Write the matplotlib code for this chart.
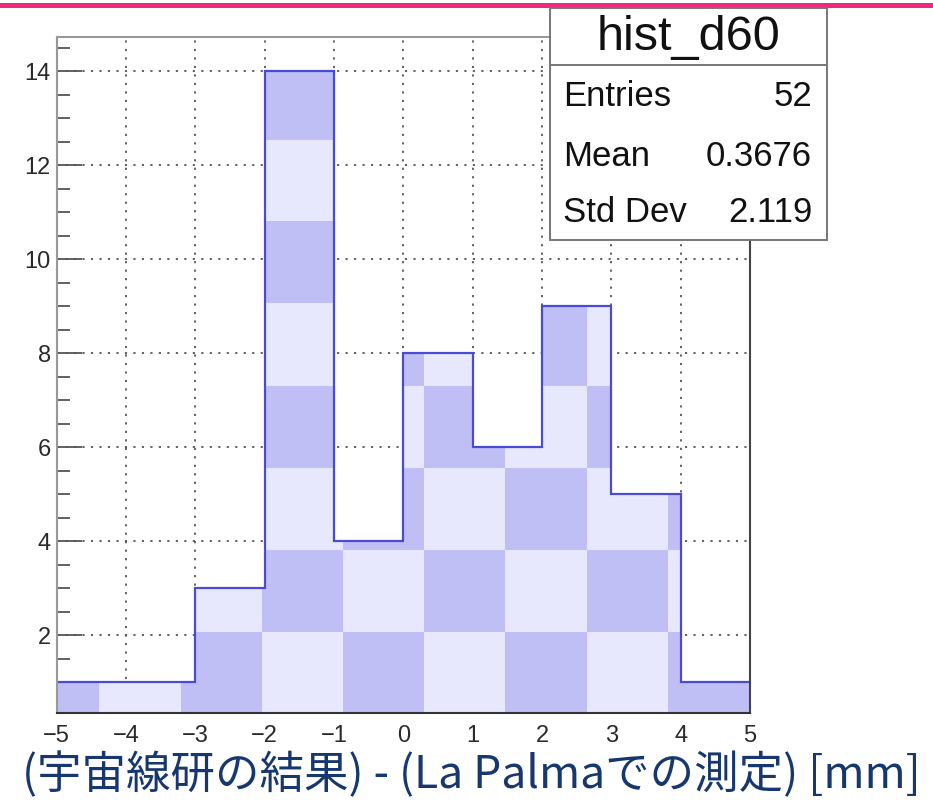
import numpy as np
import matplotlib
matplotlib.use("Agg")
import matplotlib.pyplot as plt
from matplotlib.patches import Rectangle
from matplotlib.lines import Line2D
from matplotlib.ticker import MultipleLocator

# histogram contents (bin width 1 mm)
bin_edges = [-5, -4, -3, -2, -1, 0, 1, 2, 3, 4, 5]
bin_counts = [1, 1, 3, 14, 4, 8, 6, 9, 5, 1]

stat_title = "hist_d60"
stat_names = ["Entries", "Mean", "Std Dev"]
stat_values = ["52", "0.3676", "2.119"]

x_label = "(宇宙線研の結果) - (La Palmaでの測定) [mm]"

plt.rcParams["font.family"] = ["Liberation Sans", "DejaVu Sans"]

fig = plt.figure(figsize=(9.33, 8.0), dpi=100)
ax = fig.add_axes([56.5 / 933, 87 / 800, (750 - 56.5) / 933, (713 - 36.7) / 800])

ax.set_xlim(-5, 5)
ax.set_ylim(0.34, 14.74)

# outline + clip shape
step_patch = ax.stairs(bin_counts, bin_edges, fill=True, facecolor="none",
                       edgecolor="none", baseline=0, zorder=2)
ax.stairs(bin_counts, bin_edges, fill=False, edgecolor="#4b4bd2",
          linewidth=1.6, baseline=None, zorder=4)

# ROOT-like pattern fill, rendered as a coarse checker texture
gx = np.linspace(-5, 5, 1000)
gy = np.linspace(0.34, 14.74, 1000)
GX, GY = np.meshgrid(gx, gy)
ix = np.floor((GX + 4.39) / 1.17)
iy = np.floor((GY - 2.06) / 1.747)
checker = ((ix + iy) % 2 == 0).astype(float)
cmap = matplotlib.colors.ListedColormap(["#e7e7fd", "#bfbff5"])
img = ax.imshow(checker, extent=(-5, 5, 0.34, 14.74), origin="lower",
                cmap=cmap, aspect="auto", interpolation="nearest", zorder=3)
img.set_clip_path(step_patch)

# grid on top of the fill
ax.grid(True, which="major", linestyle=(0, (1.2, 3.5)), color="#555555",
        linewidth=1.3, zorder=5)
ax.set_axisbelow(False)

ax.xaxis.set_major_locator(MultipleLocator(1))
ax.xaxis.set_minor_locator(MultipleLocator(0.2))
ax.yaxis.set_major_locator(MultipleLocator(2))
ax.yaxis.set_minor_locator(MultipleLocator(0.5))
ax.set_yticks(range(2, 15, 2))

ax.tick_params(axis="x", which="major", direction="in", length=17, width=1.3,
               color="#333333", pad=9, labelsize=17, labelcolor="#2a2a2a")
ax.tick_params(axis="x", which="minor", direction="in", length=8, width=1.3,
               color="#333333")
ax.tick_params(axis="y", which="major", direction="in", length=18, width=1.3,
               color="#555555", pad=4, labelsize=17, labelcolor="#2a2a2a")
ax.tick_params(axis="y", which="minor", direction="in", length=9, width=1.3,
               color="#555555")

for side, col in [("left", "#999999"), ("top", "#999999"),
                  ("bottom", "#333333"), ("right", "#444444")]:
    ax.spines[side].set_color(col)
    ax.spines[side].set_linewidth(1.5)
    ax.spines[side].set_zorder(6)

fig.text(471 / 933, 1 - 775 / 800, x_label, ha="center", va="center",
         fontsize=32, color="#17386e",
         family=["Noto Sans CJK JP", "DejaVu Sans"])

# pink rule at the top of the slide
fig.add_artist(Line2D([0, 1], [1 - 4.5 / 800, 1 - 4.5 / 800],
                      transform=fig.transFigure, color="#ee2a7b", linewidth=3.6))

# stats box
bx0, bx1, by0, by1 = 550 / 933, 827 / 933, 1 - 240 / 800, 1 - 8 / 800
fig.add_artist(Rectangle((bx0, by0), bx1 - bx0, by1 - by0,
                         transform=fig.transFigure, facecolor="white",
                         edgecolor="#777777", linewidth=1.4, zorder=10))
fig.add_artist(Line2D([bx0, bx1], [1 - 65 / 800, 1 - 65 / 800],
                      transform=fig.transFigure, color="#777777",
                      linewidth=1.4, zorder=11))
fig.text((bx0 + bx1) / 2, 1 - 37 / 800, stat_title, ha="center", va="center",
         fontsize=35, color="#111111", zorder=12)
row_y = [97, 157, 213]
for name, value, ry in zip(stat_names, stat_values, row_y):
    fig.text(563 / 933, 1 - ry / 800, name, ha="left", va="center",
             fontsize=25, color="#111111", zorder=12)
    fig.text(812 / 933, 1 - ry / 800, value, ha="right", va="center",
             fontsize=25, color="#111111", zorder=12)

fig.savefig("out.png", dpi=100)
